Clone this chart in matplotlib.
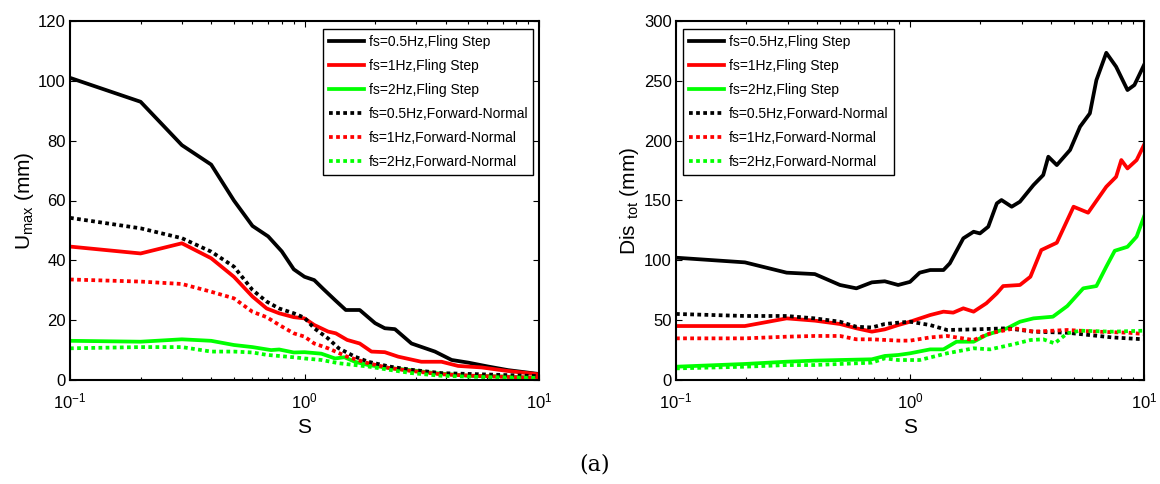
import matplotlib
matplotlib.use("Agg")
import matplotlib.pyplot as plt

# ---- data (S on log axis) ----
# left panel: U_max (mm)
s_fs05_fling_l = [0.1, 0.2, 0.3, 0.4, 0.5, 0.6, 0.7, 0.8, 0.9, 1.0, 1.1, 1.2, 1.35, 1.5, 1.72, 2.0, 2.2, 2.43, 2.86, 3.6, 4.24, 5.0, 6.07, 7.38, 10]
u_fs05_fling = [101, 93, 78.5, 72, 60, 51.5, 48, 43, 37, 34.5, 33.4, 30.5, 26.7, 23.4, 23.4, 19, 17.3, 17, 12.2, 9.5, 6.7, 5.8, 4.5, 3.3, 2]
s_fs1_fling_l = [0.1, 0.2, 0.3, 0.4, 0.5, 0.6, 0.69, 0.78, 0.9, 1.0, 1.1, 1.26, 1.36, 1.52, 1.72, 1.93, 2.2, 2.51, 3.15, 3.84, 4.52, 5.69, 7.38, 10]
u_fs1_fling = [44.6, 42.3, 45.7, 40.7, 34.5, 27.9, 23.9, 22.3, 21, 20.6, 18.4, 16.2, 15.6, 13.4, 12.2, 9.5, 9.3, 7.8, 6.1, 6.1, 4.7, 4.2, 3, 1.9]
s_fs2_fling_l = [0.1, 0.2, 0.3, 0.4, 0.5, 0.6, 0.72, 0.78, 0.9, 1.0, 1.18, 1.35, 1.48, 1.64, 1.87, 2.3, 2.77, 3.6, 5.0, 6.9, 10]
u_fs2_fling = [13.1, 12.8, 13.6, 13.1, 11.7, 11, 10, 10.2, 9.2, 9.3, 8.8, 7.2, 7.6, 6.1, 5, 4, 3.4, 2.3, 1.4, 1.2, 0.7]
s_fs05_fn_l = [0.1, 0.2, 0.3, 0.4, 0.5, 0.6, 0.69, 0.78, 0.9, 1.0, 1.1, 1.26, 1.4, 1.64, 1.87, 2.3, 2.86, 3.84, 5.69, 10]
u_fs05_fn = [54.2, 50.7, 47.4, 42.9, 37.9, 30.1, 26.2, 23.9, 22.3, 20.8, 17.3, 13.9, 10.6, 7.8, 6.1, 4.5, 3.4, 2.3, 1.9, 1.3]
s_fs1_fn_l = [0.1, 0.2, 0.3, 0.4, 0.5, 0.6, 0.69, 0.78, 0.9, 1.0, 1.1, 1.26, 1.52, 1.87, 2.3, 2.86, 3.84, 5.69, 10]
u_fs1_fn = [33.6, 32.9, 32.1, 29.5, 27.3, 22.8, 21, 18.4, 15.6, 14.5, 12.2, 10.6, 7.8, 5.6, 4, 3, 1.9, 1.3, 0.7]
s_fs2_fn_l = [0.1, 0.2, 0.3, 0.4, 0.5, 0.6, 0.69, 0.9, 1.0, 1.18, 1.4, 1.87, 2.3, 2.86, 3.84, 5.69, 10]
u_fs2_fn = [10.6, 11, 11, 9.5, 9.5, 9.2, 8.4, 7.6, 7.2, 6.7, 5.6, 4.5, 3.4, 2.3, 1.4, 1, 0.7]

# right panel: Dis_tot (mm)
s_fs05_fling_r = [0.1, 0.197, 0.297, 0.392, 0.502, 0.59, 0.687, 0.78, 0.89, 1.0, 1.1, 1.22, 1.39, 1.48, 1.69, 1.87, 1.99, 2.16, 2.35, 2.46, 2.72, 2.95, 3.37, 3.71, 3.9, 4.24, 4.83, 5.33, 5.87, 6.26, 6.9, 7.6, 8.5, 9.1, 10]
d_fs05_fling = [102.2, 98.3, 89.7, 88.5, 79.4, 76.6, 81.6, 82.5, 79.4, 82, 89.7, 91.9, 91.9, 97.5, 118.4, 123.9, 122.5, 128.1, 147.6, 150.4, 144.8, 149, 162.9, 171.3, 186.6, 179.6, 192.2, 211.7, 222.8, 250.6, 273.4, 261.8, 242.3, 246.5, 263.2]
s_fs1_fling_r = [0.1, 0.197, 0.297, 0.392, 0.502, 0.59, 0.687, 0.78, 0.89, 1.0, 1.22, 1.39, 1.53, 1.69, 1.87, 2.12, 2.35, 2.5, 2.95, 3.27, 3.64, 4.24, 5.0, 5.77, 6.9, 7.6, 8.0, 8.5, 9.3, 10]
d_fs1_fling = [45.1, 45.1, 51.5, 49.6, 46.8, 43.2, 40.4, 42.3, 45.9, 48.7, 54.3, 57.1, 56.3, 59.9, 57.1, 64.1, 72.4, 78.5, 79.4, 86.3, 108.6, 114.7, 144.8, 139.8, 161.5, 169.8, 183.8, 176.8, 183.8, 196.4]
s_fs2_fling_r = [0.1, 0.197, 0.297, 0.392, 0.502, 0.687, 0.78, 0.89, 1.0, 1.22, 1.39, 1.58, 1.87, 2.12, 2.6, 2.95, 3.37, 4.08, 4.7, 5.5, 6.26, 6.9, 7.5, 8.5, 9.3, 10]
d_fs2_fling = [11.1, 13.4, 15.3, 16.2, 16.7, 17.3, 20.1, 20.9, 22.3, 25.6, 25.6, 32, 32, 37.6, 43.2, 48.7, 51.5, 52.9, 61.8, 76.6, 78.5, 94.7, 108, 111.3, 119.8, 136.5]
s_fs05_fn_r = [0.1, 0.197, 0.297, 0.392, 0.502, 0.59, 0.687, 0.78, 0.89, 1.0, 1.22, 1.44, 1.87, 2.6, 3.37, 4.7, 5.33, 7.3, 10]
d_fs05_fn = [55.2, 53.5, 53.5, 51.5, 48.7, 44.5, 43.9, 46.8, 47.9, 48.7, 45.9, 41.8, 42.3, 43.2, 40.4, 39.5, 38.4, 35.6, 34]
s_fs1_fn_r = [0.1, 0.197, 0.297, 0.392, 0.502, 0.59, 0.687, 0.9, 1.0, 1.22, 1.44, 1.87, 2.2, 2.8, 3.37, 4.7, 6.26, 8.6, 10]
d_fs1_fn = [34.8, 34.8, 36.2, 36.8, 36.8, 34, 34, 32.9, 32.9, 35.6, 36.8, 33.4, 39, 43.2, 40.4, 41.8, 40.4, 39.5, 38.4]
s_fs2_fn_r = [0.1, 0.197, 0.297, 0.392, 0.502, 0.687, 0.78, 0.89, 1.1, 1.44, 1.87, 2.2, 2.8, 3.27, 3.71, 4.15, 4.7, 5.33, 7.3, 10]
d_fs2_fn = [9.7, 11.1, 12.5, 12.5, 13.4, 14.5, 18.1, 16.7, 16.7, 22.3, 26.5, 25.6, 30.1, 33.4, 34, 30.6, 39, 41.2, 40.4, 41.2]

labels = ["fs=0.5Hz,Fling Step", "fs=1Hz,Fling Step", "fs=2Hz,Fling Step",
          "fs=0.5Hz,Forward-Normal", "fs=1Hz,Forward-Normal", "fs=2Hz,Forward-Normal"]
colors = ["black", "#ff0000", "#00ff00", "black", "#ff0000", "#00ff00"]

plt.rcParams['font.family'] = ['Liberation Sans', 'DejaVu Sans']
plt.rcParams['mathtext.fontset'] = 'custom'
plt.rcParams['mathtext.rm'] = 'Liberation Sans'
plt.rcParams['mathtext.it'] = 'Liberation Sans'
plt.rcParams['mathtext.bf'] = 'Liberation Sans'

fig = plt.figure(figsize=(11.6, 4.84), dpi=100)
ax1 = fig.add_axes([70 / 1160, 104 / 484, 469 / 1160, 359 / 484])
ax2 = fig.add_axes([676 / 1160, 104 / 484, 468 / 1160, 359 / 484])

dot = (0, (1.0, 0.9))

def draw(ax, series):
    for i, (s, v) in enumerate(series):
        ls = '-' if i < 3 else dot
        ax.plot(s, v, color=colors[i], lw=2.7, ls=ls, label=labels[i],
                dash_capstyle='butt', solid_joinstyle='round')
    ax.set_xscale('log')
    ax.set_xlim(0.1, 10)
    ax.tick_params(which='both', direction='in', top=True, right=True,
                   labelsize=12, width=0.8)
    ax.tick_params(which='major', length=4)
    ax.tick_params(which='minor', length=2.5)
    ax.tick_params(axis='x', which='major', pad=8)
    ax.tick_params(axis='y', which='major', pad=3)
    for sp in ax.spines.values():
        sp.set_linewidth(1.5)
    ax.set_xlabel('S', fontsize=15, va='center')
    ax.xaxis.set_label_coords(0.5, -0.131)

draw(ax1, [(s_fs05_fling_l, u_fs05_fling), (s_fs1_fling_l, u_fs1_fling), (s_fs2_fling_l, u_fs2_fling),
           (s_fs05_fn_l, u_fs05_fn), (s_fs1_fn_l, u_fs1_fn), (s_fs2_fn_l, u_fs2_fn)])
ax1.set_ylim(0, 120)
ax1.set_yticks(range(0, 121, 20))
ax1.set_ylabel(r'U$_{\mathrm{max}}$ (mm)', fontsize=15, va='center')
ax1.yaxis.set_label_coords(-0.098, 0.5)

draw(ax2, [(s_fs05_fling_r, d_fs05_fling), (s_fs1_fling_r, d_fs1_fling), (s_fs2_fling_r, d_fs2_fling),
           (s_fs05_fn_r, d_fs05_fn), (s_fs1_fn_r, d_fs1_fn), (s_fs2_fn_r, d_fs2_fn)])
ax2.set_ylim(0, 300)
ax2.set_yticks(range(0, 301, 50))
ax2.set_ylabel(r'Dis $_{\mathrm{tot}}$ (mm)', fontsize=15, va='center')
ax2.yaxis.set_label_coords(-0.100, 0.5)

leg_kw = dict(loc='upper left', mode='expand', fontsize=10, fancybox=False,
              framealpha=1, edgecolor='black', handlelength=2.5, handletextpad=0.35,
              labelspacing=0.72, borderaxespad=0, borderpad=0.45)
lg1 = ax1.legend(bbox_to_anchor=(0.539, 0.978, 0.448, 0.0), **leg_kw)
lg2 = ax2.legend(bbox_to_anchor=(0.015, 0.978, 0.451, 0.0), **leg_kw)
for lg in (lg1, lg2):
    lg.get_frame().set_linewidth(1.0)

fig.text(595 / 1160, 1 - 464 / 484, '(a)', ha='center', va='center',
         fontsize=16, family='DejaVu Serif')

fig.savefig('out.png', dpi=100)
